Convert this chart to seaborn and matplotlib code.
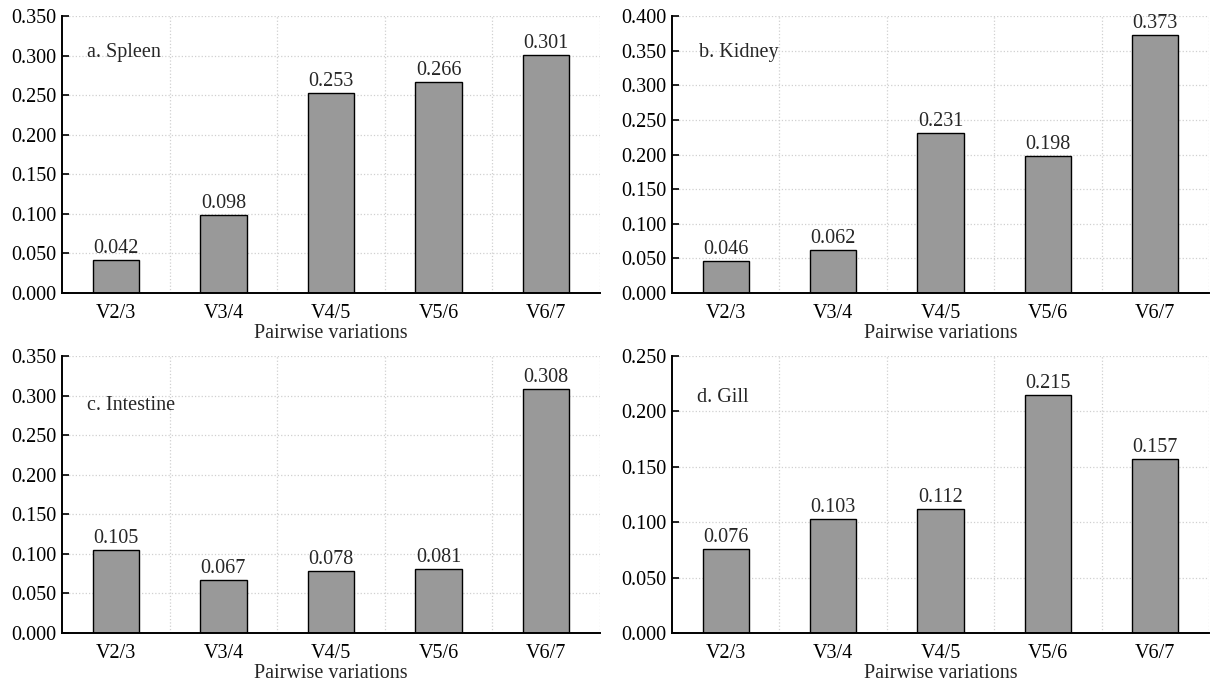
import pandas as pd
import numpy as np
import matplotlib
matplotlib.use("Agg")
import matplotlib.pyplot as plt
import seaborn as sns
from matplotlib.ticker import FixedLocator, MultipleLocator, FormatStrFormatter

# Data
categories = ['V2/3', 'V3/4', 'V4/5', 'V5/6', 'V6/7']
spleen = [0.042, 0.098, 0.253, 0.266, 0.301]
kidney = [0.046, 0.062, 0.231, 0.198, 0.373]
intestine = [0.105, 0.067, 0.078, 0.081, 0.308]
gill = [0.076, 0.103, 0.112, 0.215, 0.157]
panel_titles = ['a. Spleen', 'b. Kidney', 'c. Intestine', 'd. Gill']
y_max = [0.35, 0.40, 0.35, 0.25]

sns.set_style("white")
plt.rcParams['font.family'] = ['Liberation Serif', 'DejaVu Serif']
FS = 14.5
plt.rcParams['font.size'] = FS

fig = plt.figure(figsize=(12.1, 6.84), dpi=100)

# axes boxes in pixels (left, top, right, bottom) -> figure fractions
boxes = [(62, 16, 600, 293), (672, 16, 1209, 293),
         (62, 356, 600, 633), (672, 356, 1209, 633)]
title_pos = [(0.046, 0.87), (0.05, 0.87), (0.046, 0.82), (0.046, 0.85)]
series = [spleen, kidney, intestine, gill]

W, H = 1210, 684
for i, vals in enumerate(series):
    l, t, r, b = boxes[i]
    ax = fig.add_axes([l / W, 1 - b / H, (r - l) / W, (b - t) / H])
    df = pd.DataFrame({'Variation': categories, 'Value': vals})
    sns.barplot(data=df, x='Variation', y='Value', ax=ax, color='#999999',
                saturation=1, edgecolor='black', linewidth=1.0, width=0.43)
    ax.set_xlim(-0.5, 4.5)
    ax.set_ylim(0, y_max[i])
    ax.yaxis.set_major_locator(MultipleLocator(0.05))
    ax.yaxis.set_major_formatter(FormatStrFormatter('%.3f'))
    ax.xaxis.set_minor_locator(FixedLocator([0.5, 1.5, 2.5, 3.5, 4.5]))
    ax.tick_params(axis='x', which='major', length=0, pad=8, labelsize=FS, colors='black')
    ax.tick_params(axis='x', which='minor', direction='in', length=5, width=1.2, color='black')
    ax.tick_params(axis='y', which='major', direction='in', length=5, width=1.2, pad=4,
                   labelsize=FS, colors='black', left=True)
    ax.grid(False)
    ax.grid(axis='x', which='minor', linestyle=':', color='#d0d0d0', linewidth=0.9)
    ax.grid(axis='y', which='major', linestyle=':', color='#d0d0d0', linewidth=0.9)
    ax.set_axisbelow(True)
    for side in ['top', 'right']:
        ax.spines[side].set_visible(False)
    for side in ['left', 'bottom']:
        ax.spines[side].set_color('black')
        ax.spines[side].set_linewidth(1.4)
    ax.set_ylabel('')
    ax.set_xlabel('Pairwise variations', fontsize=FS, labelpad=1)
    for p, v in zip(ax.patches, vals):
        ax.annotate(f'{v:.3f}', (p.get_x() + p.get_width() / 2, v),
                    xytext=(0, 1.5), textcoords='offset points',
                    ha='center', va='bottom', fontsize=FS)
    ax.text(title_pos[i][0], title_pos[i][1], panel_titles[i], transform=ax.transAxes,
            ha='left', va='center', fontsize=FS)

fig.savefig('out.png', dpi=100)
